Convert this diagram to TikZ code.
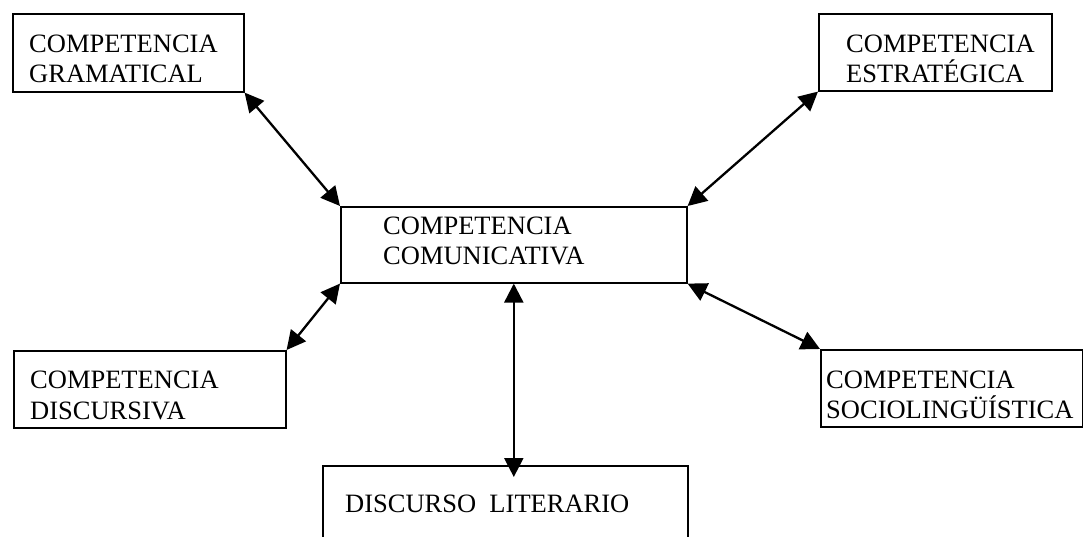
\documentclass[tikz,border=0pt]{standalone}
\usepackage{fontspec}
\setmainfont{Liberation Serif}
\usetikzlibrary{arrows.meta}
\tikzset{
  box/.style={draw, line width=1.6pt, rectangle, inner sep=0pt, anchor=north west},
  lbl/.style={anchor=base west, inner sep=0pt, font=\fontsize{26.5}{30}\selectfont},
  link/.style={line width=2.3pt, {Triangle[length=19pt,width=19pt]}-{Triangle[length=19pt,width=19pt]}}
}
\begin{document}
\begin{tikzpicture}[x=1pt, y=-1pt]
\clip (0,0) rectangle (1083,537);
\fill[white] (0,0) rectangle (1083,537);
% boxes
\node[box, minimum width=231, minimum height=78] (gram) at (12,13) {};
\node[box, minimum width=233, minimum height=77] (estr) at (818,13) {};
\node[box, minimum width=346, minimum height=76] (com) at (340,206) {};
\node[box, minimum width=272, minimum height=77] (disc) at (13,350) {};
\node[box, minimum width=262, minimum height=77] (socio) at (820,349) {};
\node[box, minimum width=365, minimum height=100] (lit) at (322,465) {};
% texts
\node[lbl] (gram1) at (29,53) {COMPETENCIA};
\node[lbl] (gram2) at (29,83) {GRAMATICAL};
\node[lbl] (estr1) at (846,53) {COMPETENCIA};
\node[lbl] (estr2) at (846,83) {ESTRATÉGICA};
\node[lbl] (com1) at (383,235) {COMPETENCIA};
\node[lbl] (com2) at (383,265) {COMUNICATIVA};
\node[lbl] (disc1) at (30,388) {COMPETENCIA};
\node[lbl] (disc2) at (30,419) {DISCURSIVA};
\node[lbl] (socio1) at (826,388) {COMPETENCIA};
\node[lbl] (socio2) at (826,418) {SOCIOLINGÜÍSTICA};
\node[lbl] (lit1) at (345,512) {DISCURSO\ \ LITERARIO};
% connectors
\draw[link] (gram.south east) -- (com.north west);
\draw[link] (estr.south west) -- (com.north east);
\draw[link] (disc.north east) -- (com.south west);
\draw[link] (socio.north west) -- (com.south east);
\draw[link] (com.south) -- ([yshift=-12pt]com.south |- lit.north);
\end{tikzpicture}
\end{document}
